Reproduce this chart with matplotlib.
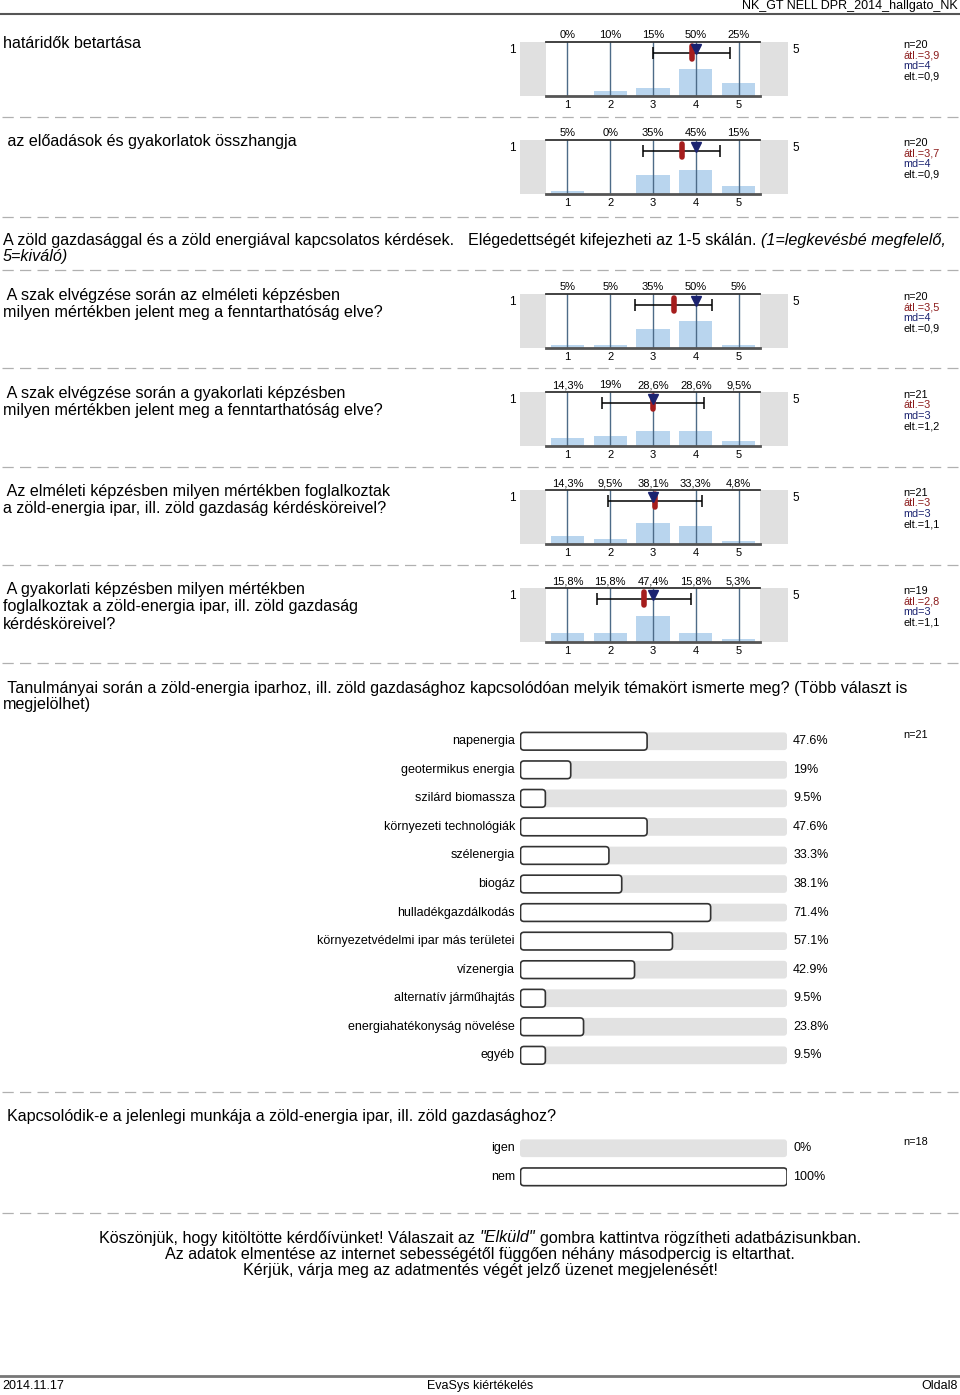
import matplotlib
matplotlib.use("Agg")
import matplotlib.pyplot as plt
from matplotlib.patches import Rectangle, FancyBboxPatch

plt.rcParams['font.family'] = ['Liberation Sans', 'DejaVu Sans']

# --------------------------------------------------
# Data read from the report page
# --------------------------------------------------

scale_titles = [
    "határidők betartása",
    " az előadások és gyakorlatok összhangja",
    " A szak elvégzése során az elméleti képzésben\nmilyen mértékben jelent meg a fenntarthatóság elve?",
    " A szak elvégzése során a gyakorlati képzésben\nmilyen mértékben jelent meg a fenntarthatóság elve?",
    " Az elméleti képzésben milyen mértékben foglalkoztak\na zöld-energia ipar, ill. zöld gazdaság kérdésköreivel?",
    " A gyakorlati képzésben milyen mértékben\nfoglalkoztak a zöld-energia ipar, ill. zöld gazdaság\nkérdésköreivel?",
]
scale_pcts = [
    [0, 10, 15, 50, 25],
    [5, 0, 35, 45, 15],
    [5, 5, 35, 50, 5],
    [14.3, 19, 28.6, 28.6, 9.5],
    [14.3, 9.5, 38.1, 33.3, 4.8],
    [15.8, 15.8, 47.4, 15.8, 5.3],
]
scale_means = [3.91, 3.67, 3.48, 3.0, 3.05, 2.79]
scale_medians = [4, 4, 4, 3, 3, 3]
scale_sds = [0.9, 0.9, 0.9, 1.2, 1.1, 1.1]
scale_n = [20, 20, 20, 21, 21, 19]
mean_labels = ["3,9", "3,7", "3,5", "3", "3", "2,8"]
sd_labels = ["0,9", "0,9", "0,9", "1,2", "1,1", "1,1"]

topics = ["napenergia", "geotermikus energia", "szilárd biomassza",
          "környezeti technológiák", "szélenergia", "biogáz",
          "hulladékgazdálkodás", "környezetvédelmi ipar más területei",
          "vízenergia", "alternatív járműhajtás",
          "energiahatékonyság növelése", "egyéb"]
topic_pcts = [47.6, 19, 9.5, 47.6, 33.3, 38.1, 71.4, 57.1, 42.9, 9.5, 23.8, 9.5]
topic_n = 21

yes_no = ["igen", "nem"]
yes_no_pcts = [0, 100]
yes_no_n = 18

TITLE_FS = 11.6

# --------------------------------------------------
# Page setup (overlay axes in pixel units)
# --------------------------------------------------

W, H = 960, 1395
fig = plt.figure(figsize=(W / 100, H / 100), dpi=100)
ax0 = fig.add_axes([0, 0, 1, 1])
ax0.set_xlim(0, W)
ax0.set_ylim(H, 0)
ax0.axis("off")
renderer = fig.canvas.get_renderer()


def px_axes(x0, y0, w, h):
    return fig.add_axes([x0 / W, 1 - (y0 + h) / H, w / W, h / H])


def seg_line(x, y, parts, size, ha="left", gaps=None):
    texts = [ax0.text(0, y, s, fontsize=size, style=st, va="center", ha="left")
             for s, st in parts]
    widths = [t.get_window_extent(renderer).width for t in texts]
    if gaps is None:
        gaps = [size * 100 / 72 * 0.278] * (len(texts) - 1)
    total = sum(widths) + sum(gaps)
    xc = x - total / 2 if ha == "center" else x
    for i, (t, w) in enumerate(zip(texts, widths)):
        t.set_x(xc)
        xc += w + (gaps[i] if i < len(gaps) else 0)


def dashed(y):
    ax0.plot([2, 958], [y, y], color="#b0b0b0", lw=0.9, dashes=(9, 5))


# header / footer
ax0.text(958, 6, "NK_GT NELL DPR_2014_hallgato_NK", fontsize=9, ha="right", va="center")
ax0.plot([0, 960], [14, 14], color="#555555", lw=1.5)
ax0.plot([0, 960], [1376, 1376], color="#777777", lw=2)
ax0.text(2, 1386, "2014.11.17", fontsize=9, ha="left", va="center")
ax0.text(480, 1386, "EvaSys kiértékelés", fontsize=9, ha="center", va="center")
ax0.text(958, 1386, "Oldal8", fontsize=9, ha="right", va="center")

# --------------------------------------------------
# Scale questions (histogram panels)
# --------------------------------------------------

panel_tops = [42, 140, 294, 392, 490, 588]
PX0, PW, PH = 546, 214, 54

for k, top in enumerate(panel_tops):
    ax0.text(3, top - 6, scale_titles[k], fontsize=TITLE_FS, ha="left", va="top",
             linespacing=1.2)
    ax0.add_patch(Rectangle((520, top), PX0 - 520, PH, color="#e0e0e0", lw=0))
    ax0.add_patch(Rectangle((PX0 + PW, top), 28, PH, color="#e0e0e0", lw=0))
    ax0.text(512, top + 8, "1", fontsize=8.5, ha="center", va="center")
    ax0.text(796, top + 8, "5", fontsize=8.5, ha="center", va="center")

    ax = px_axes(PX0, top, PW, PH)
    ax.set_xlim(0.5, 5.5)
    ax.set_ylim(0, 100)
    xs = [1, 2, 3, 4, 5]
    ax.bar(xs, scale_pcts[k], width=0.78, color="#b9d5ee", zorder=1)
    for x in xs:
        ax.axvline(x, color="#4d6b88", lw=1, zorder=2)
    ax.errorbar(scale_means[k], 80, xerr=scale_sds[k], color="black", lw=1.1,
                capsize=4, capthick=1.1, zorder=3)
    ax.plot([scale_means[k]] * 2, [93, 68], color="#a51d1d", lw=4,
            solid_capstyle="round", zorder=4)
    ax.plot(scale_medians[k], 87, marker="v", color="#1b2370", ms=7, zorder=5)
    for s in ["left", "right"]:
        ax.spines[s].set_visible(False)
    ax.spines["top"].set_color("#333333")
    ax.spines["top"].set_linewidth(1.3)
    ax.spines["bottom"].set_color("#555555")
    ax.spines["bottom"].set_linewidth(2)
    ax.set_yticks([])
    ax.set_xticks(xs)
    ax.set_xticklabels([str(x) for x in xs], fontsize=8)
    ax.tick_params(axis="x", length=0, pad=3)
    ax.set_facecolor("white")
    for x, p in zip(xs, scale_pcts[k]):
        lab = f"{p:g}".replace(".", ",") + "%"
        ax0.text(PX0 + (x - 0.5) * PW / 5, top - 7, lab, fontsize=8,
                 ha="center", va="center")

    stats = [(f"n={scale_n[k]}", "black"),
             (f"átl.={mean_labels[k]}", "#8b1a1a"),
             (f"md={scale_medians[k]}", "#1b2370"),
             (f"elt.={sd_labels[k]}", "black")]
    for i, (s, c) in enumerate(stats):
        ax0.text(903, top + 3 + i * 10.4, s, fontsize=7.8, color=c,
                 ha="left", va="center")

for y in [117, 217, 270, 368, 467, 565, 663, 1092, 1213]:
    dashed(y)

# section header with italic part
seg_line(3, 241, [("A zöld gazdasággal és a zöld energiával kapcsolatos kérdések.", "normal"),
                  ("Elégedettségét kifejezheti az 1-5 skálán.", "normal"),
                  ("(1=legkevésbé megfelelő,", "italic")], TITLE_FS, gaps=[14, 4.5])
ax0.text(3, 257, "5=kiváló)", fontsize=TITLE_FS, style="italic", ha="left", va="center")

# --------------------------------------------------
# Multiple choice bar chart
# --------------------------------------------------

ax0.text(3, 689, " Tanulmányai során a zöld-energia iparhoz, ill. zöld gazdasághoz "
         "kapcsolódóan melyik témakört ismerte meg? (Több választ is",
         fontsize=TITLE_FS, ha="left", va="center")
ax0.text(3, 705, "megjelölhet)", fontsize=TITLE_FS, ha="left", va="center")


def hbar_block(labels, pcts, top, n):
    rows = len(labels)
    rh = 28.55
    ax = px_axes(520, top, 267, rows * rh)
    ax.set_xlim(0, 100)
    ax.set_ylim(rows - 0.5, -0.5)
    ax.axis("off")
    asp = (1 / rh) / (100 / 267)
    bh = 0.62
    for i, p in enumerate(pcts):
        ax.add_patch(FancyBboxPatch((0, i - bh / 2), 100, bh,
                                    boxstyle="round,pad=0,rounding_size=1.1",
                                    mutation_aspect=asp, fc="#e2e2e2", ec="none"))
        if p > 0:
            ax.add_patch(FancyBboxPatch((0.2, i - bh / 2), p - 0.2, bh,
                                        boxstyle="round,pad=0,rounding_size=1.3",
                                        mutation_aspect=asp, fc="white",
                                        ec="#333333", lw=1.2))
        ax.text(102.3, i, f"{p:g}%", fontsize=9, ha="left", va="center",
                clip_on=False)
        ax.text(-1.9, i, labels[i], fontsize=9, ha="right", va="center",
                clip_on=False)
    ax0.text(903, top + 8, f"n={n}", fontsize=7.8, ha="left", va="center")


hbar_block(topics, topic_pcts, 727, topic_n)

ax0.text(7, 1117, "Kapcsolódik-e a jelenlegi munkája a zöld-energia ipar, ill. zöld gazdasághoz?",
         fontsize=TITLE_FS, ha="left", va="center")
hbar_block(yes_no, yes_no_pcts, 1134, yes_no_n)

# --------------------------------------------------
# Closing message
# --------------------------------------------------

seg_line(480, 1238, [("Köszönjük, hogy kitöltötte kérdőívünket! Válaszait az", "normal"),
                     ('"Elküld"', "italic"),
                     ("gombra kattintva rögzítheti adatbázisunkban.", "normal")], TITLE_FS,
         ha="center")
ax0.text(480, 1254, "Az adatok elmentése az internet sebességétől függően néhány "
         "másodpercig is eltarthat.", fontsize=TITLE_FS, ha="center", va="center")
ax0.text(480, 1270, "Kérjük, várja meg az adatmentés végét jelző üzenet megjelenését!",
         fontsize=TITLE_FS, ha="center", va="center")

fig.savefig("out.png", dpi=100)
